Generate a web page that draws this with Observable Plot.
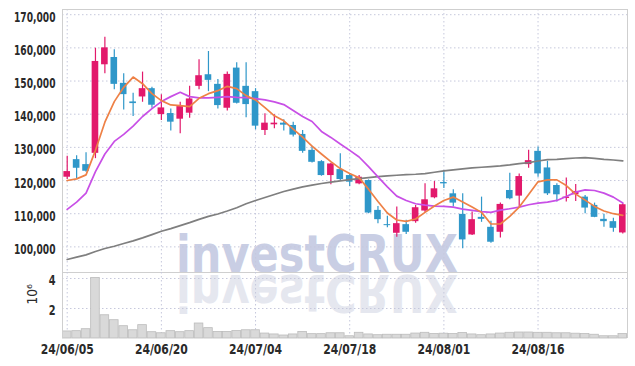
<!DOCTYPE html>
<html><head><meta charset="utf-8">
<script src="https://cdn.jsdelivr.net/npm/d3@7"></script>
<script src="https://cdn.jsdelivr.net/npm/@observablehq/plot@0.6"></script>
<style>
html,body{margin:0;padding:0;background:#fff;}
#chart{position:relative;width:635px;height:366px;overflow:hidden;}
#chart svg{display:block;}
</style></head><body><div id="chart"></div>
<script>
const dates = ["24/06/05","24/06/07","24/06/10","24/06/11","24/06/12","24/06/13","24/06/14","24/06/17","24/06/18","24/06/19","24/06/20","24/06/21","24/06/24","24/06/25","24/06/26","24/06/27","24/06/28","24/07/01","24/07/02","24/07/03","24/07/04","24/07/05","24/07/08","24/07/09","24/07/10","24/07/11","24/07/12","24/07/15","24/07/16","24/07/17","24/07/18","24/07/19","24/07/22","24/07/23","24/07/24","24/07/25","24/07/26","24/07/29","24/07/30","24/07/31","24/08/01","24/08/02","24/08/05","24/08/06","24/08/07","24/08/08","24/08/09","24/08/12","24/08/13","24/08/14","24/08/16","24/08/19","24/08/20","24/08/21","24/08/22","24/08/23","24/08/26","24/08/27","24/08/28","24/08/29"];
const open = [121000,126300,124800,128200,154900,157100,149300,143700,145200,147700,139900,140200,138500,140300,148400,151900,149000,141800,153900,148400,146800,135100,136800,137300,136600,133900,129100,125700,121500,123300,121500,119000,120000,111000,106700,104100,106700,107600,110800,114800,119400,116000,109800,103600,108900,105900,104400,117000,115300,124800,128800,123800,118500,114600,115700,115000,112500,108300,107600,104200];
const close = [122700,123700,122800,155900,160000,149000,145900,143200,147700,142700,141900,137600,142300,144600,151600,150200,142600,152000,143300,142900,136400,137300,137300,136700,133700,128800,125500,121500,125000,120300,119500,121000,110200,108200,106400,107000,104400,111800,114200,117500,119000,113200,102100,108200,108300,101400,112800,114500,121200,126000,122000,116000,115700,115000,116700,111700,108900,107600,105600,112700];
const high = [127300,127500,128400,159900,163200,159400,152200,146300,152700,148100,145900,141600,143600,148400,156400,158900,150500,152700,155500,155500,147700,140100,139800,138300,137600,135100,130300,126000,125200,128100,122000,121500,120200,112200,109200,112000,108000,112500,119000,119700,123000,117200,116000,110500,115000,107700,113200,122200,122000,129100,130100,125800,119000,120800,118800,115500,113200,109800,108600,113000];
const low = [120300,120600,122500,126600,152200,147400,141300,139300,143600,141800,138100,134900,134100,138800,147400,146800,141600,141000,143100,138900,135300,133600,135600,134900,133100,128200,125300,121300,118700,120000,118200,118700,110000,107000,105800,102900,103700,107100,110300,114500,117600,112000,99400,103400,107400,101100,102700,114200,111700,123700,121000,115500,113500,113500,113700,110000,108800,105900,104400,103900];
const volume = [470000,490000,620000,4040000,1550000,1220000,820000,550000,890000,420000,350000,490000,420000,490000,1000000,690000,440000,440000,500000,550000,550000,330000,270000,200000,270000,440000,290000,290000,350000,350000,150000,380000,270000,220000,250000,250000,250000,330000,380000,300000,320000,300000,370000,270000,220000,270000,330000,380000,400000,400000,380000,380000,350000,350000,320000,300000,250000,150000,150000,300000];
const ma5 = [120000,120500,121700,129100,137600,143800,148100,151200,149200,146200,144100,142800,142600,142300,144800,146200,147100,148400,147700,145600,144300,142000,139500,138000,135500,133100,130400,128000,125700,123600,122100,120800,117400,113700,110200,108100,107700,108400,110400,112300,114000,115000,113500,112000,110400,106900,106900,109200,112000,115800,119600,120200,120200,118500,115900,114100,112200,110800,110000,109500];
const ma20 = [111300,113500,116200,122700,128000,131800,133900,136400,139300,141700,143800,145300,146600,145300,144900,144900,145100,145300,145100,145000,144700,144300,143700,142900,141100,139300,137800,134800,133000,131000,129100,127100,124200,121100,118100,115300,114000,113000,112600,112300,112200,112000,111400,111000,110600,110400,111100,111500,112000,112700,113200,113500,114000,115200,116500,117200,117000,116200,115000,113200];
const ma60 = [96200,96900,97600,98600,99500,100200,101000,101800,102700,103700,104700,105500,106400,107300,108300,109200,109900,110800,111800,113000,114000,114900,115800,116700,117400,118100,118600,119100,119500,119900,120300,120600,120900,121200,121400,121600,121800,121900,122100,122500,122900,123200,123500,123800,124000,124200,124400,124700,125100,125400,125900,126300,126400,126600,126800,126900,126700,126400,126200,125900];
const xTickIdx = [0,10,20,30,40,50];
const yTicks = [100000,110000,120000,130000,140000,150000,160000,170000];
const volTicks = [2000000,4000000];
const watermark = "investCRUX";

const UP = "#e2196b", DOWN = "#2f97c9";
const GRID = "#c6c8dc";
const font = '"DejaVu Sans Condensed","DejaVu Sans",sans-serif';

const candles = dates.map((d,i)=>({i, date:d, open:open[i], close:close[i], high:high[i], low:low[i], volume:volume[i], up: close[i] >= open[i]}));
const line = (arr)=>arr.map((v,i)=>({i, v}));

const common = {width:635, marginLeft:62, marginRight:8,
  style:{fontFamily:font, fontSize:"14px", fontWeight:"bold", color:"#2a2a2a", background:"transparent", overflow:"visible"}};
const xOpt = {type:"linear", domain:[-0.5, 59.5]};

const priceChart = Plot.plot({
  ...common, height:272, marginTop:9, marginBottom:0,
  x:{...xOpt, axis:null},
  y:{domain:[92273,171568], axis:null},
  marks:[
    Plot.text([watermark], {text:d=>d, frameAnchor:"bottom", dx:-28, dy:-0.5, lineAnchor:"bottom", fontSize:52, fontWeight:"bold", fontFamily:"DejaVu Sans", fill:"#c9cee4"}),
    Plot.gridY({ticks:yTicks, stroke:GRID, strokeOpacity:1, strokeDasharray:"1.5,2.5"}),
    Plot.gridX({ticks:xTickIdx, stroke:GRID, strokeOpacity:1, strokeDasharray:"1.5,2.5"}),
    Plot.ruleX(candles, {x:"i", y1:"low", y2:"high", stroke:d=>d.up?UP:DOWN, strokeWidth:1.2}),
    Plot.rectY(candles, {x1:d=>d.i-0.5, x2:d=>d.i+0.5, y1:"open", y2:"close", fill:d=>d.up?UP:DOWN, insetLeft:1.4, insetRight:1.4}),
    Plot.line(line(ma60), {x:"i", y:"v", stroke:"#7f7f7f", strokeWidth:1.7}),
    Plot.line(line(ma20), {x:"i", y:"v", stroke:"#c84fe6", strokeWidth:1.7}),
    Plot.line(line(ma5), {x:"i", y:"v", stroke:"#ee8146", strokeWidth:1.7}),
    Plot.frame({stroke:"#cfcfcf"}),
    Plot.axisY({ticks:yTicks, tickFormat:d3.format(","), tickSize:0, tickPadding:7, dy:2.5, label:null})
  ]
});

const volumeChart = Plot.plot({
  ...common, height:94, marginTop:0, marginBottom:28,
  x:{...xOpt},
  y:{domain:[0,4400000]},
  marks:[
    Plot.text([watermark], {text:d=>d, frameAnchor:"top", dx:-28, fontSize:52, fontWeight:"bold", fontFamily:"DejaVu Sans", fill:"#e5e7ef"}),
    Plot.gridY({ticks:volTicks, stroke:GRID, strokeOpacity:1, strokeDasharray:"1.5,2.5"}),
    Plot.gridX({ticks:xTickIdx, stroke:GRID, strokeOpacity:1, strokeDasharray:"1.5,2.5"}),
    Plot.rectY(candles, {x1:d=>d.i-0.5, x2:d=>d.i+0.5, y:"volume", fill:"#d9d9d9", stroke:"#bcbcbc", strokeWidth:0.8, insetLeft:0.4, insetRight:0.4}),
    Plot.ruleX([-0.5, 59.5], {stroke:"#cfcfcf"}),
    Plot.axisY({ticks:volTicks, tickFormat:d=>d/1e6, tickSize:0, tickPadding:7, dy:2.5, label:null}),
    Plot.axisX({ticks:xTickIdx, tickFormat:i=>dates[i], tickSize:0, tickPadding:5.5, fontSize:14.5, label:null}),
    Plot.text(["10⁶"], {text:d=>d, frameAnchor:"left", dx:-30, dy:-1, rotate:-90, fontSize:13.5, fontWeight:"normal"})
  ]
});

const root = document.getElementById("chart");
root.appendChild(priceChart);
root.appendChild(volumeChart);

// watermark sizing and its mirrored reflection
d3.select(priceChart).selectAll("text").filter(function(){return this.textContent===watermark;})
  .attr("textLength", 282).attr("lengthAdjust","spacingAndGlyphs");
d3.select(volumeChart).selectAll("text").filter(function(){return this.textContent===watermark;})
  .attr("textLength", 282).attr("lengthAdjust","spacingAndGlyphs")
  .each(function(){
    const t = d3.select(this);
    const tr = t.attr("transform") || "";
    t.attr("dy", null).attr("y", -2.5).attr("transform", tr + " scale(1,-1)");
  });

// condensed tick labels (narrow face as in the original)
function squeeze(svg, label, width){
  d3.select(svg).selectAll(`g[aria-label="${label}"] text`).each(function(){
    this.setAttribute("textLength", width(this.textContent));
    this.setAttribute("lengthAdjust", "spacingAndGlyphs");
  });
}
squeeze(priceChart, "y-axis tick label", s => 41.5);
squeeze(volumeChart, "y-axis tick label", s => 6.8 * s.length);
squeeze(volumeChart, "x-axis tick label", s => 53);
</script></body></html>
